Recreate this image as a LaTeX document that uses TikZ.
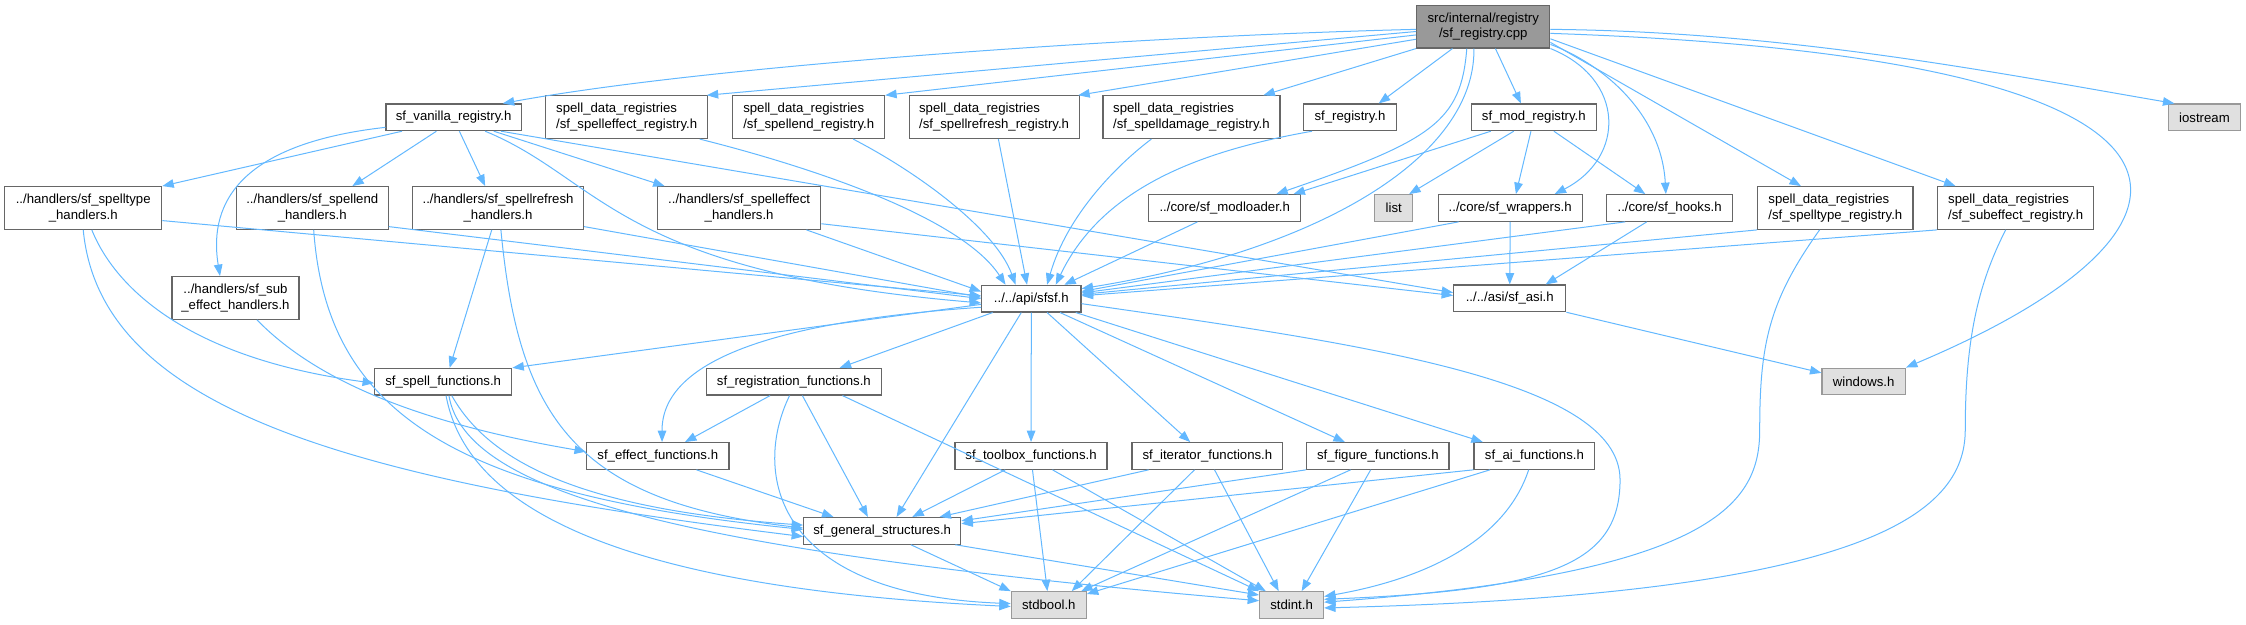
\documentclass[tikz,border=0pt]{standalone}
\usepackage{fontspec}
\setmainfont{Liberation Sans}
\usetikzlibrary{arrows.meta}

\definecolor{kantenblau}{HTML}{63B8FF}
\definecolor{randgrau}{HTML}{666666}
\definecolor{hellrand}{HTML}{999999}
\definecolor{systemgrau}{HTML}{E0E0E0}
\definecolor{wurzelgrau}{HTML}{999999}

\tikzset{
    kasten/.style={draw=randgrau, fill=white, line width=0.8pt, inner sep=0pt, minimum height=18.6pt, align=center, font=\fontsize{9.2}{10.8}\selectfont},
    zwei/.style={minimum height=29.8pt},
    links/.style={align=left},
    extern/.style={kasten, draw=hellrand, fill=systemgrau},
    wurzel/.style={kasten, zwei, fill=wurzelgrau},
    pfeil/.style={draw=kantenblau, line width=0.7pt, -{Triangle[length=8pt,width=6pt]}}
}

\begin{document}
\begin{tikzpicture}[x=1pt, y=-1pt]
        \useasboundingbox (0,0) rectangle (1568,436);
        \path node[wurzel, minimum width=93pt] (root) at (1035.5,18.6) {src/internal/registry\\/sf\_registry.cpp}
        node[extern, minimum width=50.4pt] (iostream) at (1539,81.9) {iostream}
        node[kasten, minimum width=94.4pt] (vanilla) at (316.7,81.9) {sf\_vanilla\_registry.h}
        node[kasten, zwei, links, minimum width=113pt] (effreg) at (437.5,81.8) {spell\_data\_registries\\/sf\_spelleffect\_registry.h}
        node[kasten, zwei, links, minimum width=105.9pt] (endreg) at (564.6,81.8) {spell\_data\_registries\\/sf\_spellend\_registry.h}
        node[kasten, zwei, links, minimum width=118.7pt] (refreg) at (694,81.8) {spell\_data\_registries\\/sf\_spellrefresh\_registry.h}
        node[kasten, zwei, links, minimum width=123.6pt] (dmgreg) at (831.8,81.8) {spell\_data\_registries\\/sf\_spelldamage\_registry.h}
        node[kasten, minimum width=64.9pt] (sfreg) at (942.5,81.9) {sf\_registry.h}
        node[kasten, minimum width=87.2pt] (modreg) at (1070.8,81.9) {sf\_mod\_registry.h}
        node[extern, minimum width=26.7pt] (list) at (973,145.2) {list}
        node[kasten, minimum width=106pt] (modloader) at (855,145.2) {../core/sf\_modloader.h}
        node[kasten, minimum width=100.5pt] (wrappers) at (1054.3,145.2) {../core/sf\_wrappers.h}
        node[kasten, minimum width=88.2pt] (hooks) at (1165.6,145.2) {../core/sf\_hooks.h}
        node[kasten, zwei, links, minimum width=108.5pt] (typereg) at (1281.3,145.2) {spell\_data\_registries\\/sf\_spelltype\_registry.h}
        node[kasten, zwei, links, minimum width=109.1pt] (subreg) at (1407.2,145.2) {spell\_data\_registries\\/sf\_subeffect\_registry.h}
        node[kasten, zwei, minimum width=109.6pt] (typehd) at (58.1,145.2) {../handlers/sf\_spelltype\\\_handlers.h}
        node[kasten, zwei, minimum width=106pt] (endhd) at (218,145.2) {../handlers/sf\_spellend\\\_handlers.h}
        node[kasten, zwei, minimum width=119.4pt] (refhd) at (347.7,145.2) {../handlers/sf\_spellrefresh\\\_handlers.h}
        node[kasten, zwei, minimum width=114pt] (effhd) at (516,145.2) {../handlers/sf\_spelleffect\\\_handlers.h}
        node[kasten, zwei, minimum width=88.7pt] (subhd) at (164.4,208) {../handlers/sf\_sub\\\_effect\_handlers.h}
        node[kasten, minimum width=69.4pt] (sfsf) at (720,208.5) {../../api/sfsf.h}
        node[kasten, minimum width=78.3pt] (asi) at (1054,208.3) {../../asi/sf\_asi.h}
        node[kasten, minimum width=95.8pt] (spellfn) at (309.4,266.5) {sf\_spell\_functions.h}
        node[kasten, minimum width=121.8pt] (regfn) at (554.2,266.5) {sf\_registration\_functions.h}
        node[extern, minimum width=58.2pt] (windows) at (1301.1,266.3) {windows.h}
        node[kasten, minimum width=99.5pt] (efffn) at (459.2,318.3) {sf\_effect\_functions.h}
        node[kasten, minimum width=106.1pt] (toolfn) at (719.8,318.3) {sf\_toolbox\_functions.h}
        node[kasten, minimum width=105.2pt] (iterfn) at (842.9,318.3) {sf\_iterator\_functions.h}
        node[kasten, minimum width=99.4pt] (figfn) at (961.9,318.3) {sf\_figure\_functions.h}
        node[kasten, minimum width=84.3pt] (aifn) at (1071.2,318.3) {sf\_ai\_functions.h}
        node[kasten, minimum width=109.7pt] (general) at (615.9,370.6) {sf\_general\_structures.h}
        node[extern, minimum width=52.3pt] (stdbool) at (732.2,422.4) {stdbool.h}
        node[extern, minimum width=44.6pt] (stdint) at (901.7,422.4) {stdint.h};

        \draw[pfeil] ([yshift=-1.9pt]root.west) .. controls (800,25) and (500,45) .. ([xshift=34.3pt]vanilla.north);
        \draw[pfeil] ([yshift=-3.4pt]root.west) -- ([xshift=-1pt]effreg.north east);
        \draw[pfeil] ([yshift=-5.8pt]root.west) -- (endreg.north east);
        \draw[pfeil] ([yshift=-8.8pt]root.west) -- ([xshift=-1pt]refreg.north east);
        \draw[pfeil] (root.south west) -- ([xshift=-12pt]dmgreg.north east);
        \draw[pfeil] ([xshift=-21.5pt]root.south) -- ([xshift=20pt]sfreg.north);
        \draw[pfeil] ([xshift=8.5pt]root.south) -- ([xshift=-9pt]modreg.north);
        \draw[pfeil] ([xshift=-11.5pt]root.south) .. controls (1020,85) and (1000,98) .. ([xshift=36pt]modloader.north);
        \draw[pfeil] ([xshift=-6.5pt]root.south) .. controls (1030,110) and (920,175) .. ([yshift=7pt]sfsf.east);
        \draw[pfeil] (root.south east) .. controls (1135,55) and (1135,110) .. ([xshift=31pt]wrappers.north);
        \draw[pfeil] ([yshift=-12.4pt]root.east) .. controls (1120,45) and (1160,80) .. ([xshift=-2.6pt]hooks.north);
        \draw[pfeil] ([yshift=-11pt]root.east) -- ([xshift=-24pt]typereg.north);
        \draw[pfeil] ([yshift=-8.5pt]root.east) -- ([xshift=-42pt]subreg.north);
        \draw[pfeil] ([yshift=-1.9pt]root.east) .. controls (1250,22) and (1400,52) .. ([xshift=-21pt]iostream.north);
        \draw[pfeil] ([yshift=-4.7pt]root.east) .. controls (1580,40) and (1560,160) .. (windows.north east);

        \draw[pfeil] ([xshift=-36pt]vanilla.south) -- (typehd.north east);
        \draw[pfeil] ([yshift=-7pt]vanilla.west) .. controls (170,100) and (145,140) .. ([xshift=-10.8pt]subhd.north);
        \draw[pfeil] ([xshift=-12pt]vanilla.south) -- ([xshift=28pt]endhd.north);
        \draw[pfeil] ([xshift=4pt]vanilla.south) -- ([xshift=-9pt]refhd.north);
        \draw[pfeil] ([xshift=28pt]vanilla.south) -- ([xshift=-52pt]effhd.north);
        \draw[pfeil] ([xshift=22pt]vanilla.south) .. controls (420,125) and (430,190) .. ([yshift=-3pt]sfsf.west);
        \draw[pfeil] ([xshift=33pt]vanilla.south) -- ([yshift=4pt]asi.west);

        \draw[pfeil] ([xshift=51pt]effreg.south) .. controls (560,115) and (670,150) .. ([xshift=-18pt]sfsf.north);
        \draw[pfeil] ([xshift=31pt]endreg.south) .. controls (640,120) and (695,160) .. ([xshift=-11pt]sfsf.north);
        \draw[pfeil] ([xshift=3pt]refreg.south) -- ([xshift=-3pt]sfsf.north);
        \draw[pfeil] ([xshift=-28pt]dmgreg.south) .. controls (780,115) and (745,150) .. ([xshift=11pt]sfsf.north);
        \draw[pfeil] ([xshift=-26.5pt]sfreg.south) .. controls (840,105) and (770,130) .. ([xshift=17pt]sfsf.north);

        \draw[pfeil] ([xshift=-30pt]modreg.south) -- ([xshift=48pt]modloader.north);
        \draw[pfeil] ([xshift=-14pt]modreg.south) -- ([xshift=-3pt]list.north east);
        \draw[pfeil] ([xshift=-2pt]modreg.south) -- ([xshift=4pt]wrappers.north);
        \draw[pfeil] ([xshift=14pt]modreg.south) -- ([xshift=-17pt]hooks.north);

        \draw[pfeil] ([xshift=-19pt]modloader.south) -- ([xshift=23pt]sfsf.north);
        \draw[pfeil] ([xshift=-36pt]wrappers.south) -- ([yshift=5pt]sfsf.east);
        \draw[pfeil] (wrappers.south) -- (asi.north);
        \draw[pfeil] ([xshift=-31pt]hooks.south) -- ([yshift=4pt]sfsf.east);
        \draw[pfeil] ([xshift=-16pt]hooks.south) -- ([xshift=25pt]asi.north);
        \draw[pfeil] (typereg.south west) -- ([yshift=3pt]sfsf.east);
        \draw[pfeil] ([xshift=-11pt]typereg.south) .. controls (1235,210) and (1228.5,240) .. (1228.5,300) .. controls (1228.5,350) and (1200,400) .. ([yshift=2pt]stdint.east);
        \draw[pfeil] (subreg.south west) -- ([yshift=2pt]sfsf.east);
        \draw[pfeil] ([xshift=-7pt]subreg.south) .. controls (1380,200) and (1372,240) .. (1372,300) .. controls (1372,360) and (1300,415) .. ([yshift=-2pt]stdint.east);
        \draw[pfeil] (asi.south east) -- ([yshift=6pt]windows.west);

        \draw[pfeil] ([yshift=-4pt]sfsf.west) -- (spellfn.north east);
        \draw[pfeil] ([yshift=-6pt]sfsf.west) .. controls (530,225) and (462,255) .. ([xshift=3pt]efffn.north);
        \draw[pfeil] ([xshift=-27pt]sfsf.south) -- ([xshift=32pt]regfn.north);
        \draw[pfeil] ([xshift=-7pt]sfsf.south) -- ([xshift=10pt]general.north);
        \draw[pfeil] (sfsf.south) -- (toolfn.north);
        \draw[pfeil] ([xshift=11pt]sfsf.south) -- ([xshift=-12pt]iterfn.north);
        \draw[pfeil] ([xshift=20pt]sfsf.south) -- ([xshift=-23pt]figfn.north);
        \draw[pfeil] ([xshift=31pt]sfsf.south) -- ([xshift=-36pt]aifn.north);
        \draw[pfeil] ([yshift=-3.5pt]sfsf.east) .. controls (950,240) and (1131,265) .. (1131,335) .. controls (1131,395) and (1080,412) .. ([yshift=4pt]stdint.east);

        \draw[pfeil] ([yshift=-8.8pt]typehd.east) -- ([yshift=2pt]sfsf.west);
        \draw[pfeil] ([xshift=6pt]typehd.south) .. controls (80,200) and (130,250) .. ([yshift=-1pt]spellfn.west);
        \draw[pfeil] (typehd.south) .. controls (70,285) and (240,335) .. ([yshift=-4pt]general.west);
        \draw[pfeil] ([yshift=-13pt]endhd.east) -- (sfsf.west);
        \draw[pfeil] ([xshift=1pt]endhd.south) .. controls (228,290) and (320,345) .. ([yshift=1pt]general.west);
        \draw[pfeil] ([yshift=-13pt]refhd.east) -- ([yshift=1pt]sfsf.west);
        \draw[pfeil] ([xshift=-4.4pt]refhd.south) -- ([xshift=4.5pt]spellfn.north);
        \draw[pfeil] ([xshift=2pt]refhd.south) .. controls (362,290) and (400,350) .. ([yshift=2pt]general.west);
        \draw[pfeil] ([xshift=47pt]effhd.south) -- ([yshift=5pt]sfsf.west);
        \draw[pfeil] ([yshift=-11pt]effhd.east) -- ([yshift=2pt]asi.west);
        \draw[pfeil] ([xshift=15pt]subhd.south) .. controls (220,265) and (290,295) .. ([yshift=3pt]efffn.west);

        \draw[pfeil] ([xshift=6pt]spellfn.south) .. controls (340,320) and (400,355) .. ([yshift=4pt]general.west);
        \draw[pfeil] ([xshift=2pt]spellfn.south) .. controls (325,350) and (420,410) .. ([yshift=-1pt]stdbool.west);
        \draw[pfeil] ([xshift=4pt]spellfn.south) .. controls (325,345) and (480,385) .. ([yshift=3pt]stdint.west);

        \draw[pfeil] ([xshift=-16.6pt]regfn.south) -- ([xshift=19pt]efffn.north);
        \draw[pfeil] ([xshift=6pt]regfn.south) -- ([xshift=-10pt]general.north);
        \draw[pfeil] ([xshift=-3pt]regfn.south) .. controls (525,330) and (540,415) .. ([yshift=1pt]stdbool.west);
        \draw[pfeil] ([xshift=34pt]regfn.south) -- (stdint.north west);

        \draw[pfeil] ([xshift=27pt]efffn.south) -- ([xshift=-34pt]general.north);
        \draw[pfeil] ([xshift=20pt]general.south) -- (stdbool.north west);
        \draw[pfeil] ([xshift=51pt]general.south) -- ([yshift=7pt]stdint.west);

        \draw[pfeil] ([xshift=-18pt]toolfn.south) -- ([xshift=21pt]general.north);
        \draw[pfeil] ([xshift=1pt]toolfn.south) -- ([xshift=-1pt]stdbool.north);
        \draw[pfeil] ([xshift=15pt]toolfn.south) -- ([xshift=-18pt]stdint.north);
        \draw[pfeil] ([xshift=-41pt]iterfn.south) -- ([xshift=40pt]general.north);
        \draw[pfeil] ([xshift=-9pt]iterfn.south) -- ([xshift=16pt]stdbool.north);
        \draw[pfeil] ([xshift=5pt]iterfn.south) -- ([xshift=-9pt]stdint.north);
        \draw[pfeil] (figfn.south west) -- ([yshift=7pt]general.east);
        \draw[pfeil] ([xshift=-19pt]figfn.south) -- ([xshift=-4pt]stdbool.north east);
        \draw[pfeil] ([xshift=-5pt]figfn.south) -- ([xshift=7pt]stdint.north);
        \draw[pfeil] (aifn.south west) -- ([yshift=5pt]general.east);
        \draw[pfeil] ([xshift=-31pt]aifn.south) -- ([yshift=-2pt]stdbool.north east);
        \draw[pfeil] ([xshift=-4pt]aifn.south) .. controls (1050,380) and (990,405) .. ([yshift=6pt]stdint.east);
\end{tikzpicture}
\end{document}
